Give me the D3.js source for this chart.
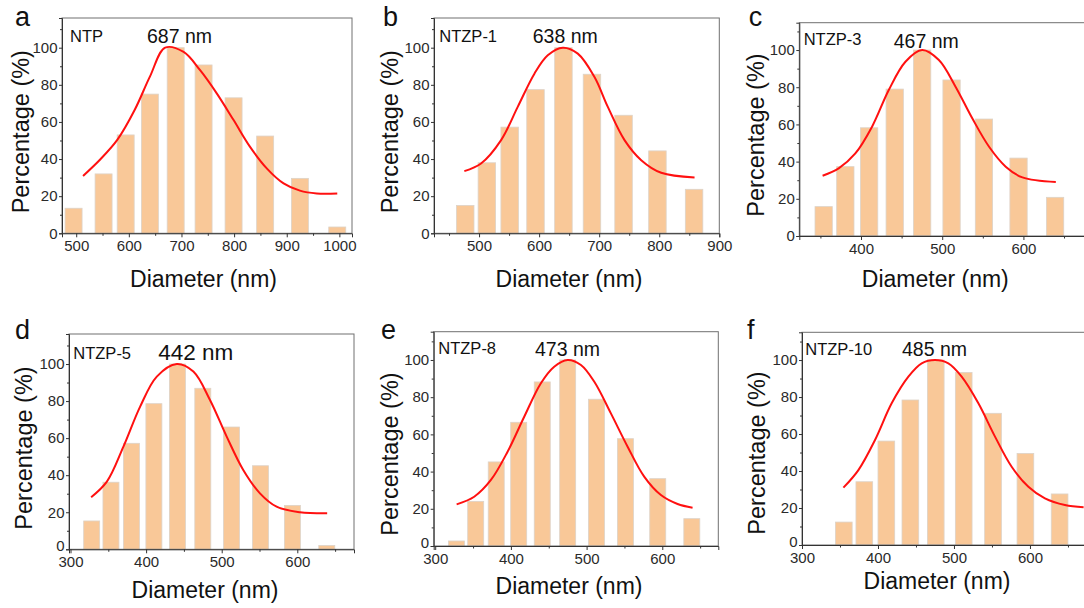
<!DOCTYPE html>
<html>
<head>
<meta charset="utf-8">
<script src="https://cdn.jsdelivr.net/npm/d3@7/dist/d3.min.js"></script>
<style>
  body { margin: 0; background: #fff; }
  svg { display: block; font-family: "Liberation Sans", Arial, sans-serif; }
</style>
</head>
<body>
<svg id="chart" width="1084" height="608"></svg>
<script>
// ---- data ----
var yTicks = [0, 20, 40, 60, 80, 100];
var yMinor = [10, 30, 50, 70, 90, 110];

// a  NTP
var diamA = [495, 552, 594, 640, 689, 742, 799, 859, 925, 996];
var pctA  = [13.5, 32, 53, 75, 100, 90.7, 73, 52.4, 29.6, 3.4];
var fitXA = [513, 546, 578, 611, 640, 669, 704, 735, 767, 799, 830, 862, 894, 925, 957, 996];
var fitYA = [30.9, 39.9, 50.3, 66.4, 84.4, 100, 97.7, 88, 75.4, 61, 46.7, 35, 26.9, 23, 21.5, 21.5];
var xTicksA = [500, 600, 700, 800, 900, 1000];

// b  NTZP-1
var diamB = [477, 513, 551, 594, 640.5, 688, 740.6, 797, 858];
var pctB  = [15, 38, 57.2, 77.4, 100, 85.7, 63.6, 44.4, 23.7];
var fitXB = [475.5, 503.3, 536.7, 564.4, 592.2, 614.4, 639.4, 664.4, 692.2, 714.4, 742.2, 770, 803.3, 858.8];
var fitYB = [33.5, 37.6, 50.2, 68.1, 86, 95.9, 100, 96.8, 84.2, 68.1, 50.2, 39.4, 32.6, 30.1];
var xTicksB = [500, 600, 700, 800, 900];

// c  NTZP-3
var diamC = [354, 380.7, 410, 441.5, 475.3, 511.5, 551.4, 594, 639];
var pctC  = [15.8, 37.3, 58.2, 79, 100, 83.9, 62.9, 41.9, 20.8];
var fitXC = [352.7, 372.5, 393, 413.6, 434.2, 454.7, 475.3, 495.9, 516.4, 537, 557.7, 578.2, 598.8, 639.9];
var fitYC = [32.4, 36.4, 44.4, 58.8, 78.5, 93.7, 100, 94.6, 80.3, 63.3, 48, 37.3, 31.5, 29];
var xTicksC = [400, 500, 600];

// d  NTZP-5
var diamD = [328, 353.5, 380.6, 410.3, 441.4, 475, 513, 551.3, 593.5, 639];
var pctD  = [15.3, 36.2, 57.2, 78.6, 100, 86.9, 66, 45.1, 23.7, 2];
var fitXD = [327.3, 348.1, 370, 392.1, 414.1, 440.6, 462.5, 484.5, 506.6, 528.5, 550.6, 572.6, 603.4, 639.5];
var fitYD = [28.1, 36.5, 55.4, 77, 93.2, 100, 95.9, 80.6, 60.8, 42.8, 30.2, 23, 20, 19.4];
var xTicksD = [300, 400, 500, 600];

// e  NTZP-8
var diamE = [328, 353.5, 380.6, 410.3, 441.4, 475, 513, 551.3, 594, 639];
var pctE  = [2.7, 24, 45.2, 66.5, 88.2, 100, 78.9, 57.7, 36.2, 14.7];
var fitXE = [328.3, 351.5, 373.6, 395.6, 417.6, 439.6, 457.2, 474.9, 492.5, 510, 532.1, 554.2, 576.1, 598.2, 620.2, 640];
var fitYE = [22.4, 26.5, 35.5, 50.7, 69.5, 87.5, 96.4, 100, 97.3, 88.4, 71.3, 53.4, 37.3, 27.4, 22.6, 20.6];
var xTicksE = [300, 400, 500, 600];

// f  NTZP-10
var diamF = [355, 382, 411, 442.6, 476, 512.8, 551.4, 594, 639];
var pctF  = [12.4, 34.2, 56.2, 78.4, 100, 93.3, 71.2, 49.5, 27.6];
var fitXF = [354.5, 374.2, 396.1, 418, 440, 457.5, 475, 492.6, 510.1, 532.1, 554, 575.9, 597.9, 619.7, 646, 670.6];
var fitYF = [31, 40.5, 56.8, 76.6, 91, 98.2, 100, 98.2, 91, 76.6, 58.6, 42.3, 31.5, 25.2, 21.6, 20.4];
var xTicksF = [300, 400, 500, 600];

var letters = ["a", "b", "c", "d", "e", "f"];
var samples = ["NTP", "NTZP-1", "NTZP-3", "NTZP-5", "NTZP-8", "NTZP-10"];
var sizes = ["687 nm", "638 nm", "467 nm", "442 nm", "473 nm", "485 nm"];

// ---- layout per panel ----
var panels = [
  {diam: diamA, pct: pctA, fx: fitXA, fy: fitYA, xt: xTicksA,
   left: 62, right: 352, top: 18, bottom: 233.3, xDom: [473, 1024], yMax: 116, bw: 17,
   letter: [15, 26], name: [70, 41.7], size: [147, 42.8], sizeFont: 19.5, yTitle: [21, 131.7], xTitle: [203.5, 286.7]},
  {diam: diamB, pct: pctB, fx: fitXB, fy: fitYB, xt: xTicksB,
   left: 434, right: 719.3, top: 18, bottom: 233.3, xDom: [425, 900], yMax: 116, bw: 17.5,
   letter: [383, 26], name: [439.3, 41.7], size: [532.7, 42.8], sizeFont: 19.5, yTitle: [389.7, 131.7], xTitle: [569, 286.7]},
  {diam: diamC, pct: pctC, fx: fitXC, fy: fitYC, xt: xTicksC,
   left: 799.3, right: 1090, top: 22.7, bottom: 236, xDom: [324, 682], yMax: 114.7, bw: 17.3,
   letter: [748.7, 26], name: [803.7, 45], size: [893.7, 47.8], sizeFont: 19.5, yTitle: [755.3, 135], xTitle: [935.3, 287.3]},
  {diam: diamD, pct: pctD, fx: fitXD, fy: fitYD, xt: xTicksD,
   left: 69, right: 354, top: 334, bottom: 549.3, xDom: [298, 675], yMax: 116.2, bw: 16,
   letter: [15, 339.3], name: [73.3, 359], size: [158.3, 360.3], sizeFont: 22.5, yTitle: [24, 448], xTitle: [205, 598.3]},
  {diam: diamE, pct: pctE, fx: fitXE, fy: fitYE, xt: xTicksE,
   left: 433.7, right: 718.3, top: 331.7, bottom: 546, xDom: [298, 674], yMax: 115.2, bw: 16,
   letter: [381, 339.3], name: [438.3, 354.3], size: [535, 355.6], sizeFont: 19.5, yTitle: [389.3, 454], xTitle: [569, 594]},
  {diam: diamF, pct: pctF, fx: fitXF, fy: fitYF, xt: xTicksF,
   left: 802, right: 1090, top: 332.3, bottom: 545, xDom: [300, 679], yMax: 115, bw: 16.7,
   letter: [747, 339], name: [805.3, 355], size: [902, 356.3], sizeFont: 19.5, yTitle: [757, 453], xTitle: [937, 589]}
];

var tickFont = 15;

var svg = d3.select("#chart");
svg.append("rect").attr("width", 1084).attr("height", 608).attr("fill", "#fff");

panels.forEach(function (p, i) {
  var x = d3.scaleLinear().domain(p.xDom).range([p.left, p.right]);
  var y = d3.scaleLinear().domain([0, p.yMax]).range([p.bottom, p.top]);
  var g = svg.append("g");

  // minor x ticks: halfway between the labelled ones
  var step = p.xt[1] - p.xt[0];
  var xMinor = d3.range(p.xt[0] - step / 2, p.xDom[1], step).filter(function (v) { return v > p.xDom[0]; });

  // bars
  g.selectAll("rect.bar")
    .data(p.diam.map(function (d, k) { return {d: d, v: p.pct[k]}; }))
    .enter().append("rect")
    .attr("class", "bar")
    .attr("x", function (d) { return x(d.d) - p.bw / 2; })
    .attr("y", function (d) { return y(d.v); })
    .attr("width", p.bw)
    .attr("height", function (d) { return p.bottom - y(d.v); })
    .attr("fill", "#f9c898")
    .attr("stroke", "#ddd3c8")
    .attr("stroke-width", 0.8);

  // fitted curve
  var line = d3.line()
    .x(function (d) { return x(d[0]); })
    .y(function (d) { return y(d[1]); })
    .curve(d3.curveCatmullRom.alpha(0.5));
  g.append("path")
    .datum(p.fx.map(function (v, k) { return [v, p.fy[k]]; }))
    .attr("d", line)
    .attr("fill", "none")
    .attr("stroke", "#ff1010")
    .attr("stroke-width", 2);

  // frame
  g.append("rect")
    .attr("x", p.left).attr("y", p.top)
    .attr("width", p.right - p.left).attr("height", p.bottom - p.top)
    .attr("fill", "none").attr("stroke", "#707070").attr("stroke-width", 1);

  // x axis
  var xAxis = g.append("g").attr("transform", "translate(0," + p.bottom + ")")
    .call(d3.axisBottom(x).tickValues(p.xt).tickSize(4).tickPadding(3.5).tickFormat(d3.format("d")));
  g.append("g").attr("transform", "translate(0," + p.bottom + ")")
    .call(d3.axisBottom(x).tickValues(xMinor).tickSize(2.5).tickFormat(""))
    .select(".domain").remove();

  // y axis
  var yAxis = g.append("g").attr("transform", "translate(" + p.left + ",0)")
    .call(d3.axisLeft(y).tickValues(yTicks).tickSize(3).tickPadding(1.5));
  g.append("g").attr("transform", "translate(" + p.left + ",0)")
    .call(d3.axisLeft(y).tickValues(yMinor).tickSize(2).tickFormat(""))
    .select(".domain").remove();

  [xAxis, yAxis].forEach(function (a) {
    a.select(".domain").attr("stroke", "#333");
    a.selectAll("text").attr("font-size", tickFont).attr("fill", "#2a2a2a")
      .attr("font-family", "'Liberation Sans', Arial, sans-serif");
  });
  g.selectAll(".tick line").attr("stroke", "#333");

  // where the first x label sits right under the axis corner, lift the "0" a touch
  if (p.xt[0] - p.xDom[0] < 5) {
    yAxis.selectAll(".tick text").filter(function (d) { return d === 0; })
      .attr("dy", "0.1em");
  }

  // titles
  g.append("text")
    .attr("transform", "translate(" + p.yTitle[0] + "," + p.yTitle[1] + ") rotate(-90)")
    .attr("text-anchor", "middle").attr("dy", "0.35em")
    .attr("font-size", 23.5).attr("fill", "#111")
    .text("Percentage (%)");
  g.append("text")
    .attr("x", p.xTitle[0]).attr("y", p.xTitle[1])
    .attr("text-anchor", "middle")
    .attr("font-size", 23).attr("fill", "#111")
    .text("Diameter (nm)");

  // panel letter, sample name, mean size
  g.append("text").attr("x", p.letter[0]).attr("y", p.letter[1])
    .attr("font-size", 27).attr("fill", "#111").text(letters[i]);
  g.append("text").attr("x", p.name[0]).attr("y", p.name[1])
    .attr("font-size", 16.5).attr("fill", "#111").text(samples[i]);
  g.append("text").attr("x", p.size[0]).attr("y", p.size[1])
    .attr("font-size", p.sizeFont).attr("fill", "#111").text(sizes[i]);
});
</script>
</body>
</html>
